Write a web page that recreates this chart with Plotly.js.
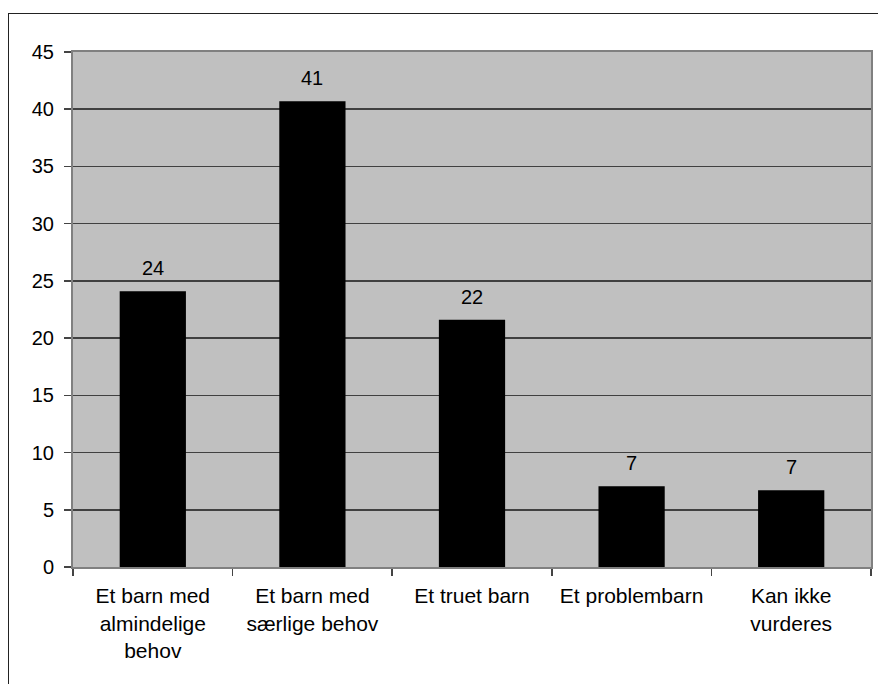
<!DOCTYPE html>
<html>
<head>
<meta charset="utf-8">
<script src="https://cdn.plot.ly/plotly-3.0.1.min.js"></script>
<style>
  html, body { margin: 0; padding: 0; width: 878px; height: 684px; overflow: hidden; background: #fff; }
  #chart { position: absolute; left: 0; top: 0; width: 878px; height: 684px; }
  #frame { position: absolute; left: 8px; top: 13px; width: 900px; height: 700px; border: 1.5px solid #222; pointer-events: none; }
</style>
</head>
<body>
<div id="chart"></div>
<div id="frame"></div>
<script>
const categories = [
  "Et barn med<br>almindelige<br>behov",
  "Et barn med<br>særlige behov",
  "Et truet barn",
  "Et problembarn",
  "Kan ikke<br>vurderes"
];
const values = [24.1, 40.7, 21.6, 7.05, 6.7];
const valueLabels = ["24", "41", "22", "7", "7"];
const yTicks = [0, 5, 10, 15, 20, 25, 30, 35, 40, 45];

const FONT = "Liberation Sans, Arial, sans-serif";

const trace = {
  type: "bar",
  x: categories,
  y: values,
  marker: { color: "#000000", line: { color: "#000000", width: 0 } },
  hoverinfo: "none"
};

const annotations = categories.map((c, i) => ({
  x: c, y: values[i], xref: "x", yref: "y",
  text: valueLabels[i], showarrow: false,
  yanchor: "bottom", yshift: 10,
  font: { family: FONT, size: 20, color: "#000" }
}));

const layout = {
  width: 878, height: 684,
  margin: { l: 73, r: 7, t: 52, b: 117, pad: 0 },
  paper_bgcolor: "rgba(0,0,0,0)",
  plot_bgcolor: "#C0C0C0",
  bargap: 0.585,
  showlegend: false,
  font: { family: FONT, color: "#000" },
  xaxis: {
    type: "category",
    showgrid: false,
    showline: true, linecolor: "#808080", linewidth: 2, mirror: true,
    ticks: "outside", tickson: "boundaries", ticklen: 7, tickcolor: "#444", tickwidth: 1.5,
    ticklabelstandoff: 9,
    tickfont: { family: FONT, size: 21, color: "#000" },
    fixedrange: true
  },
  yaxis: {
    range: [0, 45],
    tickvals: yTicks,
    ticktext: yTicks.map(String),
    showgrid: true, gridcolor: "#404040", gridwidth: 1.5,
    zeroline: false,
    showline: true, linecolor: "#808080", linewidth: 2, mirror: true,
    ticks: "outside", ticklen: 7, tickcolor: "#444", tickwidth: 1.5,
    ticklabelstandoff: 6,
    tickfont: { family: FONT, size: 20, color: "#000" },
    fixedrange: true
  },
  annotations: annotations
};

Plotly.newPlot("chart", [trace], layout, { staticPlot: true, displayModeBar: false });
</script>
</body>
</html>
